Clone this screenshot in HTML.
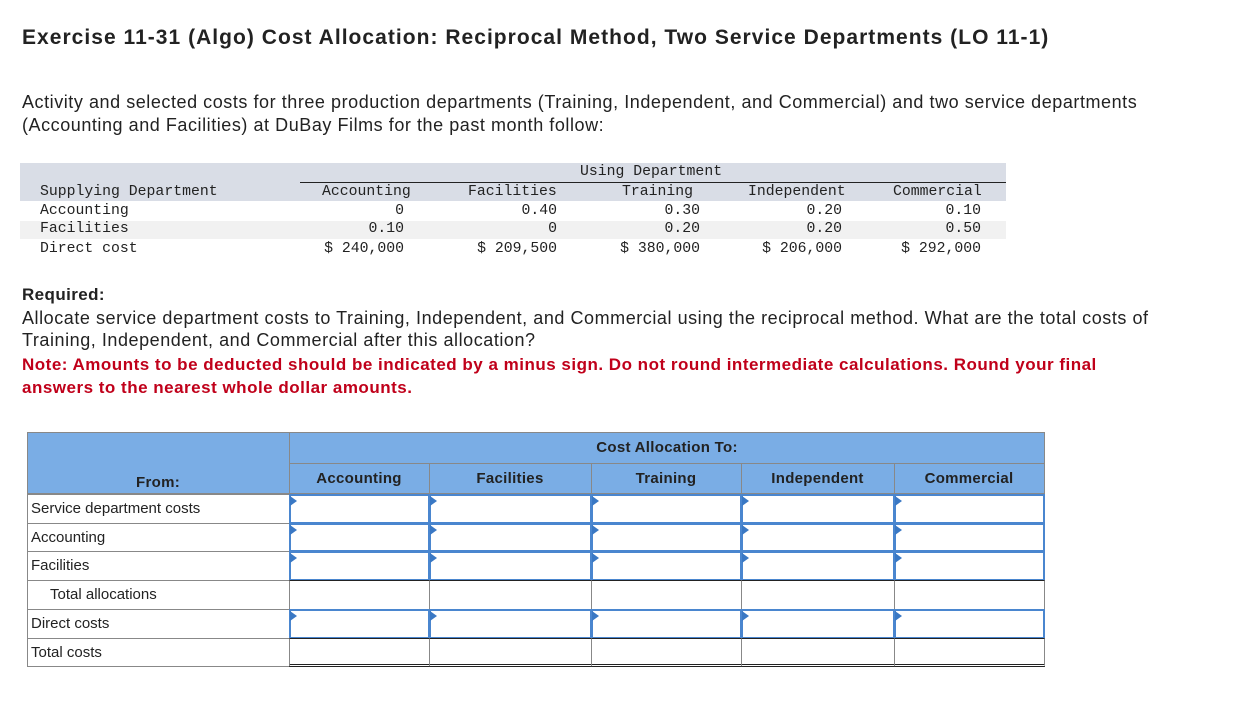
<!DOCTYPE html>
<html><head><meta charset="utf-8">
<style>
body{margin:0;width:1240px;height:708px;background:#fff;position:relative;overflow:hidden;font-family:"Liberation Sans",Arial,sans-serif;color:#222}
.a{position:absolute;white-space:nowrap}
.m{font-family:"Liberation Mono",monospace;font-size:14.8px;color:#222}
.r{text-align:right}
.c{text-align:center}
.cell{position:absolute;box-sizing:border-box;border:1px solid #888}
.inp{position:absolute;box-sizing:border-box;border:2px solid #4a86cf;background:#fff}
.tri{position:absolute;width:0;height:0;border-top:5px solid transparent;border-bottom:5px solid transparent;border-left:7px solid #3a78c4}
.lbl{position:absolute;font-size:15px;color:#222;white-space:nowrap}
.hd{position:absolute;font-size:15px;font-weight:bold;color:#222;text-align:center;letter-spacing:0.3px}
</style></head><body>
<div class="a" style="left:22px;top:26px;font-size:21px;font-weight:bold;color:#222;letter-spacing:1.03px">Exercise 11-31 (Algo) Cost Allocation: Reciprocal Method, Two Service Departments (LO 11-1)</div>
<div class="a" style="left:22px;top:91px;font-size:18px;line-height:23px;white-space:normal;width:1170px;letter-spacing:0.55px">Activity and selected costs for three production departments (Training, Independent, and Commercial) and two service departments (Accounting and Facilities) at DuBay Films for the past month follow:</div>

<div>
<div class="a" style="left:20px;top:163px;width:986px;height:38px;background:#d9dde6"></div>
<div class="a" style="left:20px;top:221px;width:986px;height:18px;background:#f1f1f1"></div>
<div class="a" style="left:300px;top:182px;width:706px;height:1px;background:#222"></div>
<div class="a m" style="left:580px;top:164px">Using Department</div>
<div class="a m" style="left:40px;top:184px">Supplying Department</div>
<div class="a m" style="left:40px;top:203px">Accounting</div>
<div class="a m" style="left:40px;top:221px">Facilities</div>
<div class="a m" style="left:40px;top:241px">Direct cost</div>
<div class="a m" style="left:322px;top:184px">Accounting</div>
<div class="a m" style="left:468px;top:184px">Facilities</div>
<div class="a m" style="left:622px;top:184px">Training</div>
<div class="a m" style="left:748px;top:184px">Independent</div>
<div class="a m" style="left:893px;top:184px">Commercial</div>
<div class="a m r" style="right:836px;top:203px">0</div>
<div class="a m r" style="right:836px;top:221px">0.10</div>
<div class="a m r" style="right:836px;top:241px">$ 240,000</div>
<div class="a m r" style="right:683px;top:203px">0.40</div>
<div class="a m r" style="right:683px;top:221px">0</div>
<div class="a m r" style="right:683px;top:241px">$ 209,500</div>
<div class="a m r" style="right:540px;top:203px">0.30</div>
<div class="a m r" style="right:540px;top:221px">0.20</div>
<div class="a m r" style="right:540px;top:241px">$ 380,000</div>
<div class="a m r" style="right:398px;top:203px">0.20</div>
<div class="a m r" style="right:398px;top:221px">0.20</div>
<div class="a m r" style="right:398px;top:241px">$ 206,000</div>
<div class="a m r" style="right:259px;top:203px">0.10</div>
<div class="a m r" style="right:259px;top:221px">0.50</div>
<div class="a m r" style="right:259px;top:241px">$ 292,000</div>
</div>

<div class="a" style="left:22px;top:285px;font-size:17px;font-weight:bold;letter-spacing:0.4px">Required:</div>
<div class="a" style="left:22px;top:307px;font-size:18px;line-height:22px;white-space:normal;width:1170px;letter-spacing:0.55px">Allocate service department costs to Training, Independent, and Commercial using the reciprocal method. What are the total costs of Training, Independent, and Commercial after this allocation?</div>
<div class="a" style="left:22px;top:353px;font-size:17px;line-height:23px;font-weight:bold;color:#c0001a;white-space:normal;width:1150px;letter-spacing:0.5px">Note: Amounts to be deducted should be indicated by a minus sign. Do not round intermediate calculations. Round your final answers to the nearest whole dollar amounts.</div>

<div id="tbl"></div>
<script>
const colX=[27,289,429,591,741,894,1044];
const rowY=[494,523,551,580,609,638,666];
const rowLabels=["Service department costs","Accounting","Facilities","Total allocations","Direct costs","Total costs"];
const colLabels=["Accounting","Facilities","Training","Independent","Commercial"];
const inputRows=[0,1,2,4];
const t=document.getElementById('tbl');
function add(cls,st,txt){const d=document.createElement('div');d.className=cls;d.style.cssText=st;if(txt)d.textContent=txt;t.appendChild(d);return d;}
let h=add('cell','left:27px;top:432px;width:1018px;height:62px;background:#7aade5;border-color:#888');


let hl=add('cell','left:289px;top:432px;width:756px;height:32px;border-color:#888;border-bottom:1px solid #222;background:transparent');


let ca=add('hd','left:289px;top:439px;width:756px','Cost Allocation To:');


let fr=add('hd','left:27px;top:474px;width:262px','From:');


for(let c=0;c<5;c++){
 let hc=add('cell',`left:${colX[c+1]}px;top:463px;width:${colX[c+2]-colX[c+1]+1}px;height:31px;background:transparent`);
 
 
 let ht=add('hd',`left:${colX[c+1]}px;top:470px;width:${colX[c+2]-colX[c+1]}px`,colLabels[c]);
 
 
}
for(let r=0;r<6;r++){
 const y=rowY[r],hh=rowY[r+1]-y;
 let lc=add('cell',`left:27px;top:${y}px;width:263px;height:${hh+1}px`);
 
 
 let lt=add('lbl',`left:${r==3?50:31}px;top:${y+6}px`,rowLabels[r]);
 
 
 for(let c=0;c<5;c++){
  const x=colX[c+1],w=colX[c+2]-x;
  if(inputRows.includes(r)){
   let ic=add('inp',`left:${x}px;top:${y}px;width:${w+1}px;height:${hh+1}px`);
   
   
   let tr=add('tri',`left:${x+1}px;top:${y+2}px`);
   
   
  } else {
   let bc=add('cell',`left:${x}px;top:${y}px;width:${w+1}px;height:${hh+1}px;${r==5?'border-bottom:3px double #222;border-top:1px solid #222':'border-top:1px solid #222'}`);
   
   
  }
 }
}
</script>
</body></html>
